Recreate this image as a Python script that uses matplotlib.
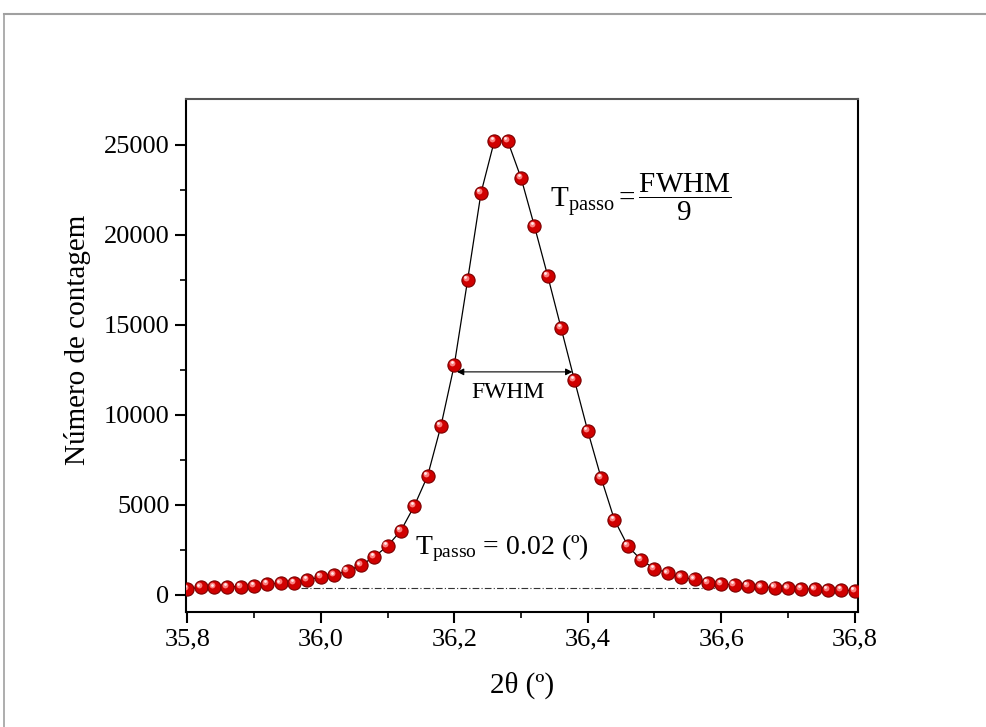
import matplotlib
matplotlib.use("Agg")
import matplotlib.pyplot as plt
import matplotlib.transforms as mtransforms
from matplotlib.lines import Line2D
import numpy as np

plt.rcParams['font.family'] = ['Liberation Serif', 'DejaVu Serif']
plt.rcParams['mathtext.fontset'] = 'custom'
plt.rcParams['mathtext.rm'] = 'Liberation Serif'
plt.rcParams['mathtext.it'] = 'Liberation Serif:italic'
plt.rcParams['mathtext.bf'] = 'Liberation Serif:bold'

two_theta = [35.80, 35.82, 35.84, 35.86, 35.88, 35.90, 35.92, 35.94, 35.96, 35.98,
             36.00, 36.02, 36.04, 36.06, 36.08, 36.10, 36.12, 36.14, 36.16, 36.18,
             36.20, 36.22, 36.24, 36.26, 36.28, 36.30, 36.32, 36.34, 36.36, 36.38,
             36.40, 36.42, 36.44, 36.46, 36.48, 36.50, 36.52, 36.54, 36.56, 36.58,
             36.60, 36.62, 36.64, 36.66, 36.68, 36.70, 36.72, 36.74, 36.76, 36.78,
             36.80]
counts = [330, 420, 430, 460, 460, 500, 610, 650, 670, 830,
          1000, 1100, 1330, 1650, 2110, 2720, 3570, 4940, 6610, 9390,
          12780, 17500, 22330, 25220, 25220, 23170, 20500, 17720, 14830, 11940,
          9110, 6500, 4170, 2720, 1940, 1460, 1210, 980, 870, 680,
          610, 560, 500, 430, 410, 370, 330, 320, 280, 280,
          220]

baseline_x = [35.97, 36.63]
baseline_y = [400, 400]

fwhm_left, fwhm_right, fwhm_level = 36.204, 36.377, 12390

x_ticks = [35.8, 36.0, 36.2, 36.4, 36.6, 36.8]
x_tick_labels = ['35,8', '36,0', '36,2', '36,4', '36,6', '36,8']
y_ticks = [0, 5000, 10000, 15000, 20000, 25000]
y_tick_labels = ['0', '5000', '10000', '15000', '20000', '25000']

fig = plt.figure(figsize=(9.87, 7.27), dpi=100)
ax = fig.add_axes([0.1885, 0.1582, 0.6808, 0.7056])

# figure border lines (top and left)
fig.add_artist(Line2D([4.5/987, 1.0], [1 - 14/727, 1 - 14/727], transform=fig.transFigure,
                      color='#a0a0a0', lw=1.5))
fig.add_artist(Line2D([4.5/987, 4.5/987], [0.0, 1 - 14/727], transform=fig.transFigure,
                      color='#a0a0a0', lw=1.2))

ax.plot(baseline_x, baseline_y, color='#333333', lw=0.8, ls=(0, (6, 2, 1, 2)), zorder=1)
ax.plot(two_theta, counts, color='black', lw=0.9, zorder=2)

# sphere-like markers
ax.plot(two_theta, counts, ls='none', marker='o', ms=9.5, mfc='#d00000', mec='#7a0000',
        mew=0.8, zorder=3)
shift = mtransforms.ScaledTranslation(-1.5/72, 1.5/72, fig.dpi_scale_trans)
ax.plot(two_theta, counts, ls='none', marker='o', ms=4.2, mfc='#ff8a8a', mec='none',
        alpha=0.9, zorder=4, transform=ax.transData + shift)
shift2 = mtransforms.ScaledTranslation(-1.8/72, 1.8/72, fig.dpi_scale_trans)
ax.plot(two_theta, counts, ls='none', marker='o', ms=2.0, mfc='#ffeaea', mec='none',
        zorder=5, transform=ax.transData + shift2)

ax.annotate('', xy=(fwhm_left, fwhm_level), xytext=(fwhm_right, fwhm_level),
            arrowprops=dict(arrowstyle='<|-|>', color='black', lw=0.8,
                            mutation_scale=10, shrinkA=0, shrinkB=0), zorder=6)
ax.text(36.28, 11250, 'FWHM', ha='center', va='center', fontsize=17)

ax.text(36.343, 22100, r'$\mathrm{T_{passo}} = \dfrac{\mathrm{FWHM}}{\mathrm{9}}$',
        ha='left', va='center', fontsize=21)
ax.text(36.141, 2600, r'$\mathrm{T_{passo}}$ = 0.02 (º)', ha='left', va='center', fontsize=20)

ax.set_xlim(35.798, 36.805)
ax.set_ylim(-950, 27550)
ax.set_xticks(x_ticks)
ax.set_xticklabels(x_tick_labels)
ax.set_yticks(y_ticks)
ax.set_yticklabels(y_tick_labels)
ax.set_xticks([35.9, 36.1, 36.3, 36.5, 36.7], minor=True)
ax.set_yticks([2500, 7500, 12500, 17500, 22500], minor=True)
ax.tick_params(axis='both', which='major', direction='out', length=8, width=1.5,
               labelsize=19, top=False, right=False, pad=4)
ax.tick_params(axis='both', which='minor', direction='out', length=4, width=1.2,
               top=False, right=False)
for s in ax.spines.values():
    s.set_linewidth(1.5)
ax.spines['top'].set_color('#555555')

ax.set_xlabel('2θ (º)', fontsize=21, labelpad=15)
ax.set_ylabel('Número de contagem', fontsize=21)
ax.yaxis.set_label_coords(-0.142, 0.530)

fig.savefig('out.png', dpi=100)
